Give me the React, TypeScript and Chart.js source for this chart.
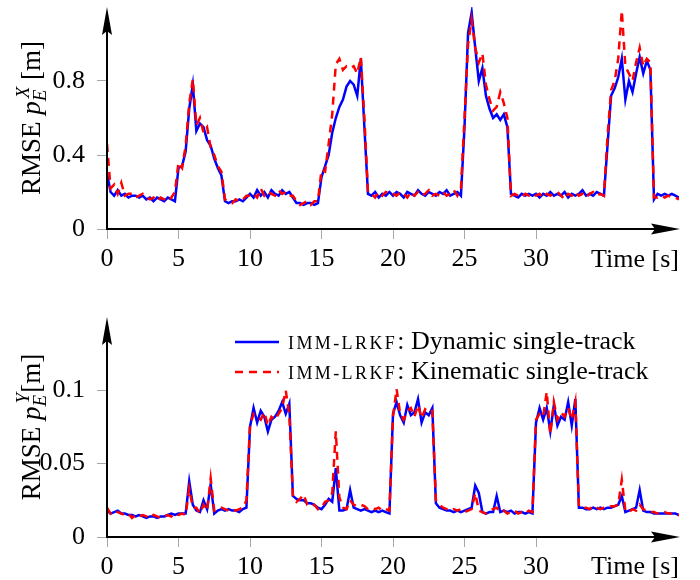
import React, { useEffect, useRef } from 'react';
import { Chart, registerables } from 'chart.js';
Chart.register(...registerables);

// sampling step of the series [s]
const DT = 0.25;
const X_TICKS = [0, 5, 10, 15, 20, 25, 30];
const TOP_Y_TICKS = [0, 0.4, 0.8];
const BOT_Y_TICKS = [0, 0.05, 0.1];
const SERIES_NAMES = ['Dynamic single-track', 'Kinematic single-track'];
const METHOD = 'IMM-LRKF';
const X_TITLE = 'Time [s]';

// RMSE p_E^X [m] — Dynamic single-track
const X_DYN = [
  0.30,0.20,0.18,0.21,0.18,0.19,0.17,0.18,0.18,0.17,0.18,0.16,0.17,0.15,0.17,0.16,0.15,0.17,0.16,0.15,
  0.33,0.34,0.42,0.65,0.78,0.53,0.57,0.55,0.48,0.45,0.38,0.33,0.29,0.15,0.14,0.15,0.15,0.16,0.15,0.17,
  0.19,0.17,0.21,0.18,0.20,0.17,0.21,0.19,0.18,0.21,0.19,0.20,0.17,0.14,0.14,0.13,0.14,0.14,0.13,0.14,
  0.28,0.34,0.40,0.52,0.60,0.66,0.70,0.77,0.80,0.78,0.72,0.92,0.55,0.19,0.18,0.20,0.17,0.19,0.18,0.20,
  0.18,0.20,0.19,0.17,0.20,0.19,0.18,0.21,0.19,0.18,0.20,0.19,0.18,0.20,0.19,0.21,0.18,0.19,0.20,0.18,
  0.55,1.06,1.17,0.98,0.80,0.87,0.72,0.65,0.60,0.62,0.59,0.62,0.55,0.19,0.18,0.17,0.19,0.18,0.19,0.18,
  0.19,0.17,0.19,0.18,0.20,0.18,0.19,0.18,0.20,0.17,0.19,0.18,0.19,0.21,0.18,0.19,0.18,0.20,0.19,0.18,
  0.45,0.72,0.76,0.82,0.92,0.70,0.80,0.74,0.84,0.93,0.84,0.91,0.86,0.16,0.19,0.18,0.19,0.18,0.19,0.18,
  0.17,
];
// RMSE p_E^X [m] — Kinematic single-track
const X_KIN = [
  0.46,0.22,0.24,0.19,0.25,0.18,0.19,0.19,0.17,0.18,0.19,0.17,0.16,0.17,0.15,0.17,0.16,0.15,0.17,0.20,
  0.36,0.33,0.45,0.68,0.81,0.56,0.60,0.52,0.55,0.44,0.40,0.34,0.31,0.16,0.15,0.14,0.16,0.15,0.16,0.18,
  0.18,0.19,0.17,0.22,0.18,0.20,0.19,0.18,0.21,0.19,0.20,0.18,0.18,0.15,0.13,0.14,0.15,0.13,0.15,0.15,
  0.32,0.31,0.46,0.62,0.89,0.92,0.86,0.88,0.87,0.88,0.84,0.93,0.60,0.20,0.19,0.17,0.20,0.18,0.20,0.19,
  0.19,0.18,0.20,0.19,0.17,0.20,0.18,0.20,0.18,0.19,0.21,0.18,0.19,0.18,0.20,0.18,0.19,0.21,0.18,0.22,
  0.60,1.00,1.13,0.98,0.90,0.95,0.78,0.70,0.64,0.66,0.74,0.68,0.60,0.18,0.19,0.18,0.17,0.19,0.18,0.19,
  0.18,0.19,0.17,0.19,0.18,0.19,0.20,0.18,0.16,0.19,0.18,0.20,0.18,0.19,0.17,0.19,0.20,0.18,0.19,0.18,
  0.50,0.75,0.80,0.92,1.18,0.88,0.84,0.80,0.90,0.98,0.88,0.92,0.90,0.17,0.17,0.18,0.17,0.18,0.17,0.17,
  0.16,
];
// RMSE p_E^Y [m] — Dynamic single-track
const Y_DYN = [
  0.018,0.016,0.017,0.018,0.016,0.016,0.015,0.015,0.014,0.015,0.014,0.013,0.014,0.014,0.013,0.014,0.014,0.015,0.016,0.015,
  0.016,0.016,0.016,0.038,0.022,0.018,0.017,0.025,0.019,0.036,0.016,0.018,0.019,0.018,0.019,0.018,0.018,0.017,0.019,0.020,
  0.075,0.088,0.078,0.086,0.082,0.072,0.080,0.082,0.086,0.092,0.084,0.091,0.028,0.026,0.025,0.025,0.023,0.023,0.022,0.020,
  0.019,0.022,0.026,0.024,0.047,0.018,0.018,0.019,0.032,0.020,0.019,0.018,0.019,0.018,0.017,0.018,0.017,0.018,0.017,0.016,
  0.084,0.092,0.083,0.078,0.090,0.083,0.085,0.094,0.078,0.085,0.083,0.088,0.023,0.020,0.019,0.018,0.018,0.017,0.018,0.017,
  0.018,0.019,0.020,0.035,0.030,0.017,0.016,0.017,0.017,0.028,0.017,0.018,0.017,0.018,0.016,0.017,0.017,0.016,0.017,0.016,
  0.078,0.088,0.080,0.088,0.072,0.090,0.076,0.082,0.080,0.092,0.076,0.094,0.020,0.020,0.019,0.019,0.020,0.019,0.020,0.019,
  0.020,0.020,0.021,0.022,0.028,0.017,0.018,0.019,0.020,0.032,0.018,0.017,0.017,0.016,0.016,0.016,0.016,0.016,0.016,0.016,
  0.015,
];
// RMSE p_E^Y [m] — Kinematic single-track
const Y_KIN = [
  0.020,0.016,0.018,0.017,0.016,0.015,0.016,0.013,0.015,0.014,0.015,0.014,0.013,0.015,0.014,0.013,0.014,0.015,0.014,0.016,
  0.015,0.016,0.015,0.033,0.020,0.020,0.016,0.022,0.018,0.040,0.018,0.019,0.020,0.019,0.018,0.019,0.018,0.019,0.020,0.025,
  0.076,0.084,0.082,0.080,0.085,0.076,0.082,0.080,0.084,0.088,0.100,0.083,0.028,0.024,0.026,0.029,0.022,0.021,0.022,0.019,
  0.020,0.024,0.025,0.030,0.072,0.027,0.020,0.019,0.025,0.022,0.021,0.022,0.021,0.019,0.020,0.019,0.020,0.018,0.019,0.018,
  0.082,0.101,0.084,0.080,0.086,0.088,0.082,0.090,0.081,0.087,0.085,0.086,0.025,0.022,0.020,0.019,0.018,0.019,0.018,0.019,
  0.017,0.018,0.019,0.030,0.018,0.017,0.016,0.018,0.019,0.020,0.017,0.018,0.016,0.017,0.018,0.016,0.017,0.016,0.018,0.017,
  0.080,0.084,0.082,0.099,0.070,0.092,0.080,0.085,0.082,0.088,0.080,0.092,0.021,0.020,0.020,0.019,0.021,0.020,0.019,0.020,
  0.020,0.021,0.021,0.022,0.039,0.018,0.017,0.019,0.018,0.022,0.019,0.018,0.017,0.017,0.016,0.016,0.017,0.016,0.016,0.015,
  0.015,
];

const FONT = "'Liberation Serif', 'Times New Roman', serif";
const FS = 26;
const BLUE = '#0000ff';
const RED = '#ff0000';
const DASH = [8, 6];
const TICK_GRAY = '#a8a8a8';

const toXY = (arr: number[]) => arr.map((v, i) => ({ x: i * DT, y: v }));

function drawYTitle(ctx: CanvasRenderingContext2D, cx: number, cy: number, sup: string, gap: boolean) {
  const base = `27px ${FONT}`;
  const ital = `italic 27px ${FONT}`;
  const small = `italic 19px ${FONT}`;
  ctx.save();
  ctx.translate(cx, cy);
  ctx.rotate(-Math.PI / 2);
  ctx.fillStyle = '#000';
  ctx.textBaseline = 'alphabetic';
  ctx.textAlign = 'left';
  const head = 'RMSE ';
  const tail = gap ? ' [m]' : '[m]';
  ctx.font = base; const w1 = ctx.measureText(head).width;
  ctx.font = ital; const w2 = ctx.measureText('p').width;
  ctx.font = small; const w3 = Math.max(ctx.measureText(sup).width + 2, ctx.measureText('E').width);
  ctx.font = base; const w4 = ctx.measureText(tail).width;
  const total = w1 + w2 + 1 + w3 + w4;
  let x = -total / 2;
  const by = 9;
  ctx.font = base; ctx.fillText(head, x, by); x += w1;
  ctx.font = ital; ctx.fillText('p', x, by); x += w2 + 1;
  ctx.font = small; ctx.fillText(sup, x + 2, by - 11); ctx.fillText('E', x - 1, by + 6); x += w3;
  ctx.font = base; ctx.fillText(tail, x, by);
  ctx.restore();
}

function drawAxes(chart: any, titleBaseline: number) {
  const { ctx, chartArea } = chart;
  const { left, right, top, bottom } = chartArea;
  ctx.save();
  ctx.strokeStyle = '#000';
  ctx.fillStyle = '#000';
  ctx.lineWidth = 2;
  ctx.setLineDash([]);
  // x axis
  ctx.beginPath();
  ctx.moveTo(left - 1, bottom);
  ctx.lineTo(right - 20, bottom);
  ctx.stroke();
  ctx.beginPath();
  ctx.moveTo(right + 1, bottom);
  ctx.lineTo(right - 28, bottom - 5.5);
  ctx.lineTo(right - 24, bottom);
  ctx.lineTo(right - 28, bottom + 5.5);
  ctx.closePath();
  ctx.fill();
  // y axis
  ctx.beginPath();
  ctx.moveTo(left, bottom + 1);
  ctx.lineTo(left, top + 20);
  ctx.stroke();
  ctx.beginPath();
  ctx.moveTo(left, top);
  ctx.lineTo(left - 5, top + 28);
  ctx.lineTo(left, top + 24);
  ctx.lineTo(left + 5, top + 28);
  ctx.closePath();
  ctx.fill();
  // x title
  ctx.font = `${FS}px ${FONT}`;
  ctx.textAlign = 'right';
  ctx.textBaseline = 'alphabetic';
  ctx.fillText(X_TITLE, right, titleBaseline);
  ctx.restore();
}

function drawLegend(ctx: CanvasRenderingContext2D) {
  const rows = [
    { color: BLUE, dash: [] as number[], y: 52, name: SERIES_NAMES[0] },
    { color: RED, dash: DASH, y: 82, name: SERIES_NAMES[1] },
  ];
  ctx.save();
  for (const r of rows) {
    ctx.strokeStyle = r.color;
    ctx.lineWidth = 2.5;
    ctx.setLineDash(r.dash);
    ctx.beginPath();
    ctx.moveTo(235, r.y);
    ctx.lineTo(279, r.y);
    ctx.stroke();
    ctx.setLineDash([]);
    ctx.fillStyle = '#000';
    ctx.textAlign = 'left';
    ctx.textBaseline = 'alphabetic';
    const bl = r.y + 7;
    ctx.font = `18px ${FONT}`;
    (ctx as any).letterSpacing = '2.4px';
    ctx.fillText(METHOD, 288, bl);
    const w = ctx.measureText(METHOD).width;
    (ctx as any).letterSpacing = '0px';
    ctx.font = `${FS}px ${FONT}`;
    ctx.fillText(': ' + r.name, 288 + w, bl);
  }
  ctx.restore();
}

function makeConfig(dyn: number[], kin: number[], yMax: number, yTicks: number[], opts: any) {
  return {
    type: 'line',
    data: {
      datasets: [
        {
          label: SERIES_NAMES[0],
          data: toXY(dyn),
          borderColor: BLUE,
          borderWidth: 2.5,
          pointRadius: 0,
          tension: 0,
          order: 2,
        },
        {
          label: SERIES_NAMES[1],
          data: toXY(kin),
          borderColor: RED,
          borderWidth: 2.5,
          borderDash: DASH,
          pointRadius: 0,
          tension: 0,
          order: 1,
        },
      ],
    },
    options: {
      responsive: false,
      animation: false,
      devicePixelRatio: 1,
      layout: { padding: { left: 0, right: 21, top: opts.padTop, bottom: 0 } },
      plugins: { legend: { display: false }, tooltip: { enabled: false } },
      scales: {
        x: {
          type: 'linear',
          min: 0,
          max: 40,
          afterBuildTicks: (s: any) => { s.ticks = X_TICKS.map((v) => ({ value: v })); },
          afterFit: (s: any) => { s.height = opts.xHeight; s.paddingLeft = 0; s.paddingRight = 0; },
          border: { display: false },
          grid: { drawOnChartArea: false, drawTicks: true, tickLength: 10, color: TICK_GRAY, lineWidth: 1 },
          ticks: { font: { family: FONT, size: FS }, color: '#000', padding: 5, maxRotation: 0, callback: (v: number) => String(v) },
        },
        y: {
          type: 'linear',
          min: 0,
          max: yMax,
          afterBuildTicks: (s: any) => { s.ticks = yTicks.map((v) => ({ value: v })); },
          afterFit: (s: any) => { s.width = 107; s.paddingTop = 0; s.paddingBottom = 0; },
          border: { display: false },
          grid: { drawOnChartArea: false, drawTicks: true, tickLength: 10, color: TICK_GRAY, lineWidth: 1 },
          ticks: { font: { family: FONT, size: FS }, color: '#000', padding: 12, callback: (v: number) => String(v) },
        },
      },
    },
    plugins: [
      {
        id: 'decor',
        afterDraw: (chart: any) => {
          drawAxes(chart, opts.titleBaseline);
          drawYTitle(chart.ctx, 31, (chart.chartArea.top + chart.chartArea.bottom) / 2, opts.sup, opts.gap);
          if (opts.legend) drawLegend(chart.ctx);
        },
      },
    ],
  };
}

export default function App() {
  const topRef = useRef<HTMLCanvasElement>(null);
  const botRef = useRef<HTMLCanvasElement>(null);

  useEffect(() => {
    const top = new Chart(topRef.current as any, makeConfig(X_DYN, X_KIN, 1.2, TOP_Y_TICKS, {
      padTop: 7, xHeight: 61, titleBaseline: 267, sup: 'X', gap: true, legend: false,
    }) as any);
    const bot = new Chart(botRef.current as any, makeConfig(Y_DYN, Y_KIN, 0.15, BOT_Y_TICKS, {
      padTop: 27, xHeight: 43, titleBaseline: 284, sup: 'Y', gap: false, legend: true,
    }) as any);
    return () => { top.destroy(); bot.destroy(); };
  }, []);

  return (
    <div style={{ position: 'absolute', left: 0, top: 0, width: 700, height: 580, background: '#fff' }}>
      <canvas ref={topRef} width={700} height={290} style={{ display: 'block', width: 700, height: 290 }} />
      <canvas ref={botRef} width={700} height={290} style={{ display: 'block', width: 700, height: 290 }} />
    </div>
  );
}
